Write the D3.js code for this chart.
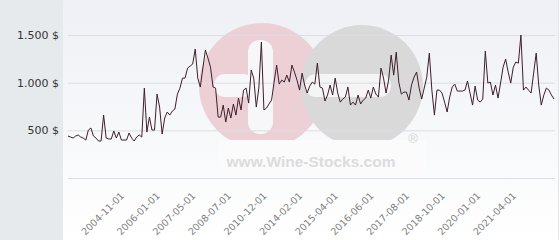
<!DOCTYPE html>
<html>
<head>
<meta charset="utf-8">
<script src="https://cdn.jsdelivr.net/npm/d3@7/dist/d3.min.js"></script>
<style>
  body { margin: 0; background: #fff; }
  svg { display: block; font-family: "DejaVu Sans", sans-serif; }
</style>
</head>
<body>
<script>
"use strict";
// monthly prices (one value per point, categorical x axis)
const prices = [
  440, 430, 419, 440, 451, 430, 419, 398, 503, 524,
  440, 419, 388, 388, 660, 419, 409, 409, 493, 419,
  482, 398, 398, 398, 472, 419, 388, 430, 451, 430,
  943, 482, 639, 503, 503, 880, 744, 461, 629, 692,
  660, 702, 723, 880, 943, 1048, 1048, 1153, 1174, 1195,
  1352, 1048, 954, 1153, 1341, 1258, 1163, 954, 943, 639,
  639, 765, 587, 734, 629, 776, 660, 838, 713, 922,
  943, 786, 1132, 1048, 744, 943, 1425, 713, 734, 776,
  817, 1006, 1184, 985, 1027, 1006, 1079, 1006, 1184, 1111,
  1027, 922, 1100, 975, 891, 964, 1006, 985, 1205, 954,
  943, 807, 870, 975, 870, 1048, 891, 796, 828, 849,
  954, 765, 796, 765, 870, 776, 817, 838, 922, 838,
  954, 880, 849, 1153, 1048, 891, 1027, 1289, 1079, 1320,
  1006, 880, 901, 901, 817, 975, 1058, 1111, 943, 828,
  943, 1058, 1310, 922, 660, 922, 922, 891, 796, 692,
  849, 954, 985, 912, 912, 912, 922, 1017, 891, 765,
  964, 817, 796, 828, 1331, 996, 1006, 870, 975, 838,
  996, 1163, 1247, 1111, 996, 1163, 1216, 1205, 1499, 922,
  954, 922, 891, 1100, 1310, 975, 765, 870, 943, 922,
  870, 828
]
const tickLabels = [
  "2004-11-01", "2006-01-01", "2007-05-01", "2008-07-01", "2010-12-01", "2014-02-01",
  "2015-04-01", "2016-06-01", "2017-08-01", "2018-10-01", "2020-01-01", "2021-04-01"
]
const firstTick = 22
const tickStep = 14
const yTicks = [500, 1000, 1500]
const gridTicks = [0, 500, 1000, 1500]

const width = 560, height = 240
const plot = { left: 68, right: 554, top: 35, bottom: 178 }

const svg = d3.select("body").append("svg")
    .attr("width", width)
    .attr("height", height)

// backgrounds
const defs = svg.append("defs")
const grad = defs.append("linearGradient")
    .attr("id", "bg").attr("x1", 0).attr("y1", 0).attr("x2", 0).attr("y2", 1)
grad.append("stop").attr("offset", "0%").attr("stop-color", "#eef0f5")
grad.append("stop").attr("offset", "100%").attr("stop-color", "#ffffff")

svg.append("rect").attr("x", 0).attr("y", 0).attr("width", width).attr("height", height).attr("fill", "#fff")
svg.append("rect").attr("x", 63).attr("y", 0).attr("width", 495).attr("height", height).attr("fill", "url(#bg)")
svg.append("rect").attr("x", 0).attr("y", 0).attr("width", 63).attr("height", height).attr("fill", "#e6eaed")
svg.append("line").attr("x1", 558.5).attr("x2", 558.5).attr("y1", 0).attr("y2", height).attr("stroke", "#e2e4e8")

// watermark logo
const wm = svg.append("g").attr("class", "watermark")
wm.append("circle").attr("cx", 262).attr("cy", 86).attr("r", 63).attr("fill", "#ecd0d6")
wm.append("circle").attr("cx", 362).attr("cy", 86).attr("r", 61).attr("fill", "#d9d9da")
wm.append("rect").attr("x", 248).attr("y", 40).attr("width", 25).attr("height", 94).attr("rx", 12).attr("fill", "#f7f7f9")
wm.append("rect").attr("x", 214).attr("y", 74).attr("width", 40).attr("height", 23).attr("rx", 11).attr("fill", "#f7f7f9")
wm.append("rect").attr("x", 305).attr("y", 74).attr("width", 86).attr("height", 23).attr("rx", 11).attr("fill", "#f5f5f6")
wm.append("rect").attr("x", 218).attr("y", 140).attr("width", 208).attr("height", 36).attr("fill", "#fbfbfc")
wm.append("text").attr("x", 311).attr("y", 167)
    .attr("text-anchor", "middle")
    .style("font-family", "'Liberation Sans', Arial, sans-serif")
    .style("font-weight", "bold")
    .style("font-size", "15.5px")
    .attr("fill", "#dcdcdc")
    .text("www.Wine-Stocks.com")
wm.append("text").attr("x", 413).attr("y", 143)
    .attr("text-anchor", "middle")
    .style("font-family", "'Liberation Sans', Arial, sans-serif")
    .style("font-size", "13px")
    .attr("fill", "#d6d6d6")
    .text("®")

// scales
const x = d3.scalePoint()
    .domain(d3.range(prices.length))
    .range([plot.left, plot.right])
const y = d3.scaleLinear()
    .domain([0, 1500])
    .range([plot.bottom, plot.top])

// grid lines
const grid = svg.append("g")
    .attr("transform", `translate(${plot.left},0)`)
    .call(d3.axisRight(y).tickValues(gridTicks).tickSize(555 - plot.left).tickFormat(""))
grid.select(".domain").remove()
grid.selectAll("line").attr("stroke", "#dcdde2")

// y axis labels
const yAxis = svg.append("g")
    .attr("transform", "translate(59,0)")
    .call(d3.axisLeft(y).tickValues(yTicks).tickSize(0).tickPadding(0)
        .tickFormat(d => d3.format(",")(d).replace(",", ".") + " $"))
yAxis.select(".domain").remove()
yAxis.selectAll("text")
    .style("font-family", "'DejaVu Sans', sans-serif")
    .style("font-size", "11px")
    .attr("fill", "#333")

// x axis labels
const tickIdx = tickLabels.map((t, i) => firstTick + i * tickStep)
const xAxis = svg.append("g")
    .attr("transform", `translate(0,${plot.bottom})`)
    .call(d3.axisBottom(x).tickValues(tickIdx).tickSize(0)
        .tickFormat(d => tickLabels[tickIdx.indexOf(d)]))
xAxis.select(".domain").remove()
xAxis.selectAll("text")
    .attr("x", 0).attr("y", 0).attr("dy", "0.35em")
    .attr("text-anchor", "end")
    .attr("transform", "translate(-2,16) rotate(-45)")
    .style("font-family", "'DejaVu Sans', sans-serif")
    .style("font-size", "9.6px")
    .attr("fill", "#808080")

// price line
const line = d3.line()
    .x((d, i) => x(i))
    .y(d => y(d))
svg.append("path")
    .datum(prices)
    .attr("d", line)
    .attr("fill", "none")
    .attr("stroke", "#3d1f2b")
    .attr("stroke-width", 1)
</script>
</body>
</html>
